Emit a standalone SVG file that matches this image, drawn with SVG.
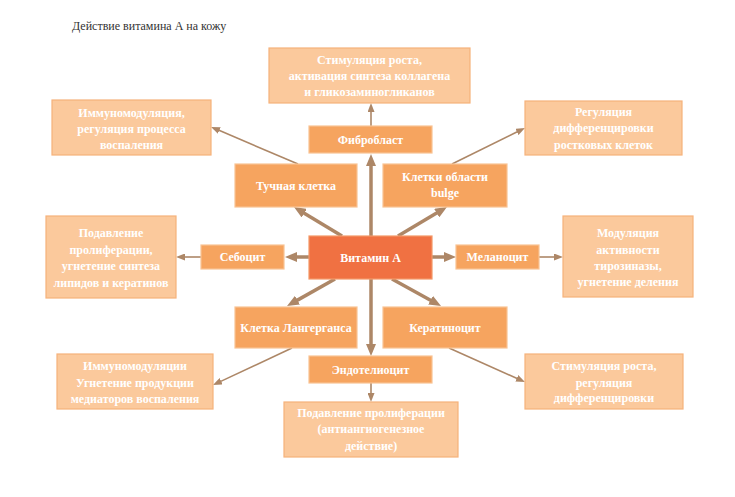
<svg xmlns="http://www.w3.org/2000/svg" width="735" height="497" viewBox="0 0 735 497">
<style>
.t{font-family:"Liberation Serif","Times New Roman",serif;font-weight:bold;font-size:12px;fill:#ffffff;text-anchor:middle;dominant-baseline:central}
.title{font-family:"Liberation Serif","Times New Roman",serif;font-size:12px;fill:#333333}
.light{fill:#FBC99C;stroke:#F6B27B;stroke-width:1.2}
.mid{fill:#F6A45F;stroke:#F9C393;stroke-width:1.2}
.main{fill:#F07142;stroke:#F49868;stroke-width:1.2}
.thick{stroke:#AD8767;stroke-width:3.5;fill:none}
.thin{stroke:#AD8767;stroke-width:1.6;fill:none}
</style>
<defs>
<marker id="hk" markerUnits="userSpaceOnUse" markerWidth="12" markerHeight="10" refX="1" refY="5" orient="auto"><path d="M0,0 L12,5 L0,10 z" fill="#AD8767"/></marker>
<marker id="hn" markerUnits="userSpaceOnUse" markerWidth="9" markerHeight="7" refX="1" refY="3.5" orient="auto"><path d="M0,0 L9,3.5 L0,7 z" fill="#AD8767"/></marker>
</defs>
<rect width="735" height="497" fill="#ffffff"/>
<text class="title" x="72" y="30">Действие витамина А на кожу</text>

<g id="connectors">
<line class="thick" x1="371" y1="236" x2="371" y2="165" marker-end="url(#hk)"/>
<line class="thick" x1="342" y1="236" x2="303.4" y2="212.7" marker-end="url(#hk)"/>
<line class="thick" x1="398" y1="236" x2="437.5" y2="212.6" marker-end="url(#hk)"/>
<line class="thick" x1="309" y1="257" x2="296" y2="257" marker-end="url(#hk)"/>
<line class="thick" x1="432" y1="257" x2="445" y2="257" marker-end="url(#hk)"/>
<line class="thick" x1="335" y1="279" x2="296.6" y2="300.6" marker-end="url(#hk)"/>
<line class="thick" x1="392" y1="279" x2="431.4" y2="300.7" marker-end="url(#hk)"/>
<line class="thick" x1="371" y1="279" x2="371" y2="345" marker-end="url(#hk)"/>
<line class="thin" x1="371" y1="126" x2="371" y2="111" marker-end="url(#hn)"/>
<line class="thin" x1="298" y1="164" x2="218.4" y2="130.1" marker-end="url(#hn)"/>
<line class="thin" x1="452" y1="164" x2="517.8" y2="131.5" marker-end="url(#hn)"/>
<line class="thin" x1="201" y1="257" x2="184" y2="257" marker-end="url(#hn)"/>
<line class="thin" x1="539" y1="257" x2="555" y2="257" marker-end="url(#hn)"/>
<line class="thin" x1="292" y1="348" x2="220.2" y2="381.6" marker-end="url(#hn)"/>
<line class="thin" x1="449" y1="348" x2="517.7" y2="378.7" marker-end="url(#hn)"/>
<line class="thin" x1="371" y1="383" x2="371" y2="394" marker-end="url(#hn)"/>
</g>

<g id="top-effect">
<rect class="light" x="269" y="48" width="201" height="55"/>
<text class="t" x="369.5" y="60">Стимуляция роста,</text>
<text class="t" x="369.5" y="76">активация синтеза коллагена</text>
<text class="t" x="369.5" y="92">и гликозаминогликанов</text>
</g>
<g id="immuno-top">
<rect class="light" x="52" y="100" width="159" height="55"/>
<text class="t" x="131.5" y="113">Иммуномодуляция,</text>
<text class="t" x="131.5" y="129">регуляция процесса</text>
<text class="t" x="131.5" y="145">воспаления</text>
</g>
<g id="regulation-top">
<rect class="light" x="525" y="101" width="157" height="54"/>
<text class="t" x="603.5" y="112">Регуляция</text>
<text class="t" x="603.5" y="128">дифференцировки</text>
<text class="t" x="603.5" y="145">ростковых клеток</text>
</g>
<g id="fibroblast">
<rect class="mid" x="309" y="126" width="123" height="27"/>
<text class="t" x="370.5" y="139.5">Фибробласт</text>
</g>
<g id="mast-cell">
<rect class="mid" x="235" y="164" width="122" height="43"/>
<text class="t" x="296" y="186">Тучная клетка</text>
</g>
<g id="bulge">
<rect class="mid" x="383" y="164" width="124" height="43"/>
<text class="t" x="445" y="177">Клетки области</text>
<text class="t" x="445" y="193">bulge</text>
</g>
<g id="vitamin-a">
<rect class="main" x="309" y="236" width="123" height="43"/>
<text class="t" x="370.5" y="257.5">Витамин А</text>
</g>
<g id="sebocyte">
<rect class="mid" x="201" y="245" width="83" height="24"/>
<text class="t" x="242.5" y="257">Себоцит</text>
</g>
<g id="melanocyte">
<rect class="mid" x="456" y="245" width="83" height="24"/>
<text class="t" x="497.5" y="257">Меланоцит</text>
</g>
<g id="sebo-effect">
<rect class="light" x="46" y="216" width="130" height="82"/>
<text class="t" x="111" y="233">Подавление</text>
<text class="t" x="111" y="250">пролиферации,</text>
<text class="t" x="111" y="266">угнетение синтеза</text>
<text class="t" x="111" y="283">липидов и кератинов</text>
</g>
<g id="melano-effect">
<rect class="light" x="563" y="216" width="130" height="81"/>
<text class="t" x="628" y="233">Модуляция</text>
<text class="t" x="628" y="250">активности</text>
<text class="t" x="628" y="266">тирозиназы,</text>
<text class="t" x="628" y="282">угнетение деления</text>
</g>
<g id="langerhans">
<rect class="mid" x="235" y="307" width="122" height="41"/>
<text class="t" x="296" y="327.5">Клетка Лангерганса</text>
</g>
<g id="keratinocyte">
<rect class="mid" x="383" y="307" width="124" height="41"/>
<text class="t" x="445" y="327.5">Кератиноцит</text>
</g>
<g id="endotheliocyte">
<rect class="mid" x="309" y="356" width="123" height="27"/>
<text class="t" x="370.5" y="369.5">Эндотелиоцит</text>
</g>
<g id="immuno-bottom">
<rect class="light" x="57" y="354" width="156" height="55"/>
<text class="t" x="135" y="366">Иммуномодуляции</text>
<text class="t" x="135" y="383">Угнетение продукции</text>
<text class="t" x="135" y="399">медиаторов воспаления</text>
</g>
<g id="stim-bottom">
<rect class="light" x="525" y="354" width="158" height="55"/>
<text class="t" x="604" y="366">Стимуляция роста,</text>
<text class="t" x="604" y="383">регуляция</text>
<text class="t" x="604" y="398">дифференцировки</text>
</g>
<g id="endo-effect">
<rect class="light" x="284" y="402" width="174" height="55"/>
<text class="t" x="371" y="413">Подавление пролиферации</text>
<text class="t" x="371" y="429">(антиангиогенезное</text>
<text class="t" x="371" y="446">действие)</text>
</g>
</svg>
